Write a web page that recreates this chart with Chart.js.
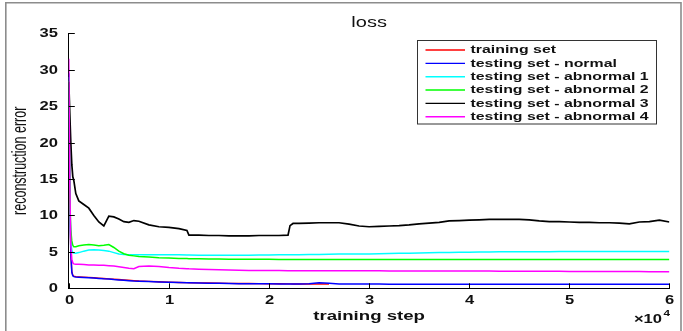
<!DOCTYPE html>
<html>
<head>
<meta charset="utf-8">
<script src="https://cdn.jsdelivr.net/npm/chart.js@4.4.0/dist/chart.umd.min.js"></script>
<style>
html,body{margin:0;padding:0;background:#fff;}
#wrap{width:683px;height:331px;position:relative;}
</style>
</head>
<body>
<div id="wrap"><canvas id="c" width="683" height="331"></canvas></div>
<script>
// ---------- data ----------
const steps = [0,100,200,300,400,500,700,1000,1500,2000,
  2500,3000,3500,4000,4500,5000,5500,6000,6500,7000,
  8000,9000,10000,11000,11800,12000,13000,14000,15000,16000,
  17000,18000,19000,20000,21000,21900,22100,22400,23000,24000,
  25000,26000,27000,28000,29000,30000,31000,32000,33000,34000,
  35000,36000,37000,38000,39000,40000,41000,42000,43000,44000,
  45000,46000,47000,48000,49000,50000,51000,52000,53000,54000,
  55000,56000,57000,58000,59000,60000];

const trainingSet = [28.5,12,5,2.3,1.8,1.65,1.6,1.57,1.53,1.5,
  1.45,1.4,1.35,1.3,1.25,1.2,1.15,1.1,1.05,1.0,
  0.95,0.9,0.85,0.8,0.78,0.77,0.74,0.72,0.7,0.68,
  0.66,0.65,0.64,0.63,0.62,0.61,0.61,0.6,0.6,0.6,
  0.59,0.59,null,null,null,null,null,null,null,null,
  null,null,null,null,null,null,null,null,null,null,
  null,null,null,null,null,null,null,null,null,null,
  null,null,null,null,null,null];

const testNormal = [29.5,12,5,2.2,1.7,1.6,1.55,1.52,1.48,1.45,
  1.4,1.35,1.3,1.27,1.2,1.15,1.1,1.05,1.0,0.97,
  0.92,0.87,0.82,0.78,0.76,0.75,0.72,0.7,0.68,0.66,
  0.64,0.63,0.62,0.61,0.6,0.6,0.6,0.6,0.6,0.62,
  0.75,0.7,0.6,0.59,0.58,0.58,0.58,0.57,0.57,0.57,
  0.57,0.56,0.56,0.56,0.56,0.56,0.55,0.55,0.55,0.55,
  0.55,0.55,0.55,0.55,0.55,0.55,0.55,0.55,0.55,0.55,
  0.55,0.55,0.55,0.55,0.55,0.55];

const testAbnormal1 = [29,12,6.5,5.2,4.9,4.85,4.8,4.9,5.1,5.25,
  5.3,5.25,5.2,5.1,4.9,4.7,4.65,4.6,4.6,4.6,
  4.6,4.6,4.6,4.6,4.57,4.57,4.55,4.55,4.55,4.55,
  4.55,4.55,4.57,4.57,4.6,4.6,4.6,4.6,4.62,4.65,
  4.65,4.68,4.7,4.7,4.7,4.72,4.75,4.78,4.8,4.82,
  4.85,4.88,4.9,4.92,4.94,4.95,4.97,4.98,5.0,5.0,
  5.02,5.02,5.03,5.03,5.04,5.05,5.05,5.05,5.05,5.05,
  5.05,5.05,5.05,5.05,5.05,5.05];

const testAbnormal2 = [28.5,12,8,6.5,5.9,5.7,5.7,5.85,5.95,6.0,
  5.95,5.85,5.9,6.0,5.6,5.1,4.75,4.55,4.45,4.35,
  4.3,4.2,4.15,4.1,4.08,4.06,4.05,4.03,4.02,4.0,
  4.0,4.0,3.98,3.98,3.97,3.97,3.97,3.97,3.96,3.96,
  3.96,3.95,3.95,3.95,3.95,3.95,3.95,3.95,3.95,3.95,
  3.95,3.95,3.95,3.95,3.95,3.95,3.95,3.95,3.95,3.95,
  3.95,3.95,3.95,3.95,3.95,3.95,3.95,3.95,3.95,3.95,
  3.95,3.95,3.95,3.95,3.95,3.95];

const testAbnormal3 = [28.3,24,20,17,15.3,14.8,13.0,12.0,11.5,11.0,
  10.0,9.1,8.55,9.9,9.8,9.5,9.15,9.05,9.3,9.2,
  8.7,8.45,8.35,8.2,7.95,7.3,7.3,7.25,7.25,7.2,
  7.2,7.2,7.25,7.25,7.25,7.3,8.6,8.9,8.9,8.95,
  9.0,9.0,9.0,8.8,8.55,8.45,8.5,8.55,8.6,8.7,
  8.85,8.95,9.05,9.25,9.3,9.37,9.4,9.45,9.45,9.45,
  9.45,9.4,9.25,9.15,9.15,9.1,9.05,9.05,9.0,9.0,
  8.95,8.85,9.1,9.15,9.35,9.1];

const testAbnormal4 = [31.5,14,6,4,3.5,3.35,3.3,3.3,3.25,3.2,
  3.2,3.15,3.15,3.1,3.05,2.95,2.85,2.75,2.7,3.0,
  3.05,3.0,2.85,2.75,2.7,2.68,2.62,2.57,2.53,2.5,
  2.48,2.46,2.45,2.44,2.43,2.42,2.42,2.42,2.42,2.42,
  2.42,2.41,2.41,2.4,2.4,2.4,2.4,2.39,2.39,2.38,
  2.38,2.38,2.37,2.37,2.37,2.36,2.36,2.36,2.35,2.35,
  2.35,2.34,2.34,2.33,2.33,2.32,2.32,2.31,2.31,2.3,
  2.3,2.29,2.29,2.28,2.28,2.28];

const seriesLabels = ['training set','testing set - normal','testing set - abnormal 1',
  'testing set - abnormal 2','testing set - abnormal 3','testing set - abnormal 4'];
const seriesValues = [trainingSet,testNormal,testAbnormal1,testAbnormal2,testAbnormal3,testAbnormal4];
const xTickLabels = ['0','1','2','3','4','5','6'];
const yTickLabels = ['0','5','10','15','20','25','30','35'];
const chartTitle = 'loss';
const xTitle = 'training step';
const yTitle = 'reconstruction error';
const xExponent = '4';

// ---------- styles ----------
const seriesColors = ['#ff0000','#0000ff','#00ffff','#00ff00','#000000','#ff00ff'];
const seriesWidths = [1.4,1.5,1.5,1.5,1.7,1.5];
const SX = 1.38; // horizontal stretch of text
const FONT = '"Liberation Sans", Arial, Helvetica, sans-serif';

const datasets = seriesValues.map((vals,i)=>({
  label: seriesLabels[i],
  data: steps.map((s,j)=>({x:s,y:vals[j]})),
  borderColor: seriesColors[i],
  backgroundColor: seriesColors[i],
  borderWidth: seriesWidths[i],
  pointRadius: 0,
  tension: 0,
  spanGaps: false,
  order: seriesValues.length - 1 - i
}));

function stretchText(ctx, str, x, y, font, align, sx){
  ctx.save();
  ctx.font = font;
  ctx.textAlign = align;
  ctx.textBaseline = 'middle';
  ctx.translate(x, y);
  ctx.scale(sx, 1);
  ctx.fillText(str, 0, 0);
  ctx.restore();
}

const decor = {
  id: 'decor',
  beforeDraw(chart){
    const ctx = chart.ctx;
    ctx.save();
    ctx.fillStyle = '#fff';
    ctx.fillRect(0,0,chart.width,chart.height);
    // outer frame
    ctx.strokeStyle = '#8c8c8c';
    ctx.lineWidth = 1.6;
    ctx.beginPath();
    ctx.moveTo(5.8, chart.height);
    ctx.lineTo(5.8, 2.8);
    ctx.lineTo(681, 2.8);
    ctx.lineTo(681, chart.height);
    ctx.stroke();
    ctx.restore();
  },
  afterDraw(chart){
    const ctx = chart.ctx;
    const xs = chart.scales.x, ys = chart.scales.y;
    const a = chart.chartArea;
    ctx.save();
    ctx.fillStyle = '#111';
    ctx.strokeStyle = '#000';
    ctx.lineWidth = 1;
    // inward ticks + labels
    ys.ticks.forEach((t,i)=>{
      const py = Math.round(ys.getPixelForValue(t.value)) + 0.5;
      ctx.beginPath();
      ctx.moveTo(a.left, py); ctx.lineTo(a.left + 6, py); ctx.stroke();
      stretchText(ctx, yTickLabels[i], 58, py, 'bold 12px ' + FONT, 'right', SX);
    });
    xs.ticks.forEach((t,i)=>{
      const px = Math.round(xs.getPixelForValue(t.value)) + 0.5;
      ctx.beginPath();
      ctx.moveTo(px, a.bottom); ctx.lineTo(px, a.bottom - 5); ctx.stroke();
      stretchText(ctx, xTickLabels[i], px, 300.5, 'bold 12px ' + FONT, 'center', SX);
    });
    // titles
    const cx = (a.left + a.right) / 2;
    stretchText(ctx, chartTitle, cx, 23, '14.5px ' + FONT, 'center', SX);
    stretchText(ctx, xTitle, cx, 316, 'bold 13.5px ' + FONT, 'center', SX);
    // y title (rotated, stretched across)
    ctx.save();
    ctx.font = '13px ' + FONT;
    ctx.textAlign = 'center';
    ctx.textBaseline = 'middle';
    ctx.translate(21, (a.top + a.bottom) / 2);
    ctx.rotate(-Math.PI/2);
    ctx.scale(0.96, 1.5);
    ctx.fillText(yTitle, 0, 0);
    ctx.restore();
    // x10^4
    stretchText(ctx, '\u00d710', 662, 319.5, 'bold 12px ' + FONT, 'right', SX);
    stretchText(ctx, xExponent, 663.5, 314, 'bold 8.5px ' + FONT, 'left', SX);
    // legend
    const lx = 417.5, ly = 40.5, lw = 239, lh = 83.5;
    ctx.fillStyle = '#fff';
    ctx.fillRect(lx, ly, lw, lh);
    ctx.strokeStyle = '#333';
    ctx.lineWidth = 1;
    ctx.strokeRect(lx, ly, lw, lh);
    chart.data.datasets.forEach((ds,i)=>{
      const ry = 50 + i * 13.35;
      ctx.strokeStyle = ds.borderColor;
      ctx.lineWidth = 1.4;
      ctx.beginPath();
      ctx.moveTo(425.5, ry); ctx.lineTo(465, ry); ctx.stroke();
      ctx.fillStyle = '#111';
      stretchText(ctx, ds.label, 470.5, ry, 'bold 11.5px ' + FONT, 'left', SX);
    });
    ctx.restore();
  }
};

new Chart(document.getElementById('c'), {
  type: 'line',
  data: { datasets },
  options: {
    responsive: false,
    animation: false,
    events: [],
    layout: { padding: { left: 0, right: 13.6, top: 33.3, bottom: 0 } },
    plugins: { legend: { display: false }, title: { display: false }, tooltip: { enabled: false } },
    scales: {
      x: {
        type: 'linear', min: 0, max: 60000,
        ticks: { stepSize: 10000, display: false },
        grid: { display: false },
        border: { display: true, color: '#000', width: 1 },
        afterFit(s){ s.height = 42.7; }
      },
      y: {
        type: 'linear', min: 0, max: 35,
        ticks: { stepSize: 5, display: false },
        grid: { display: false },
        border: { display: true, color: '#000', width: 1 },
        afterFit(s){ s.width = 68.8; }
      }
    }
  },
  plugins: [decor]
});
</script>
</body>
</html>
